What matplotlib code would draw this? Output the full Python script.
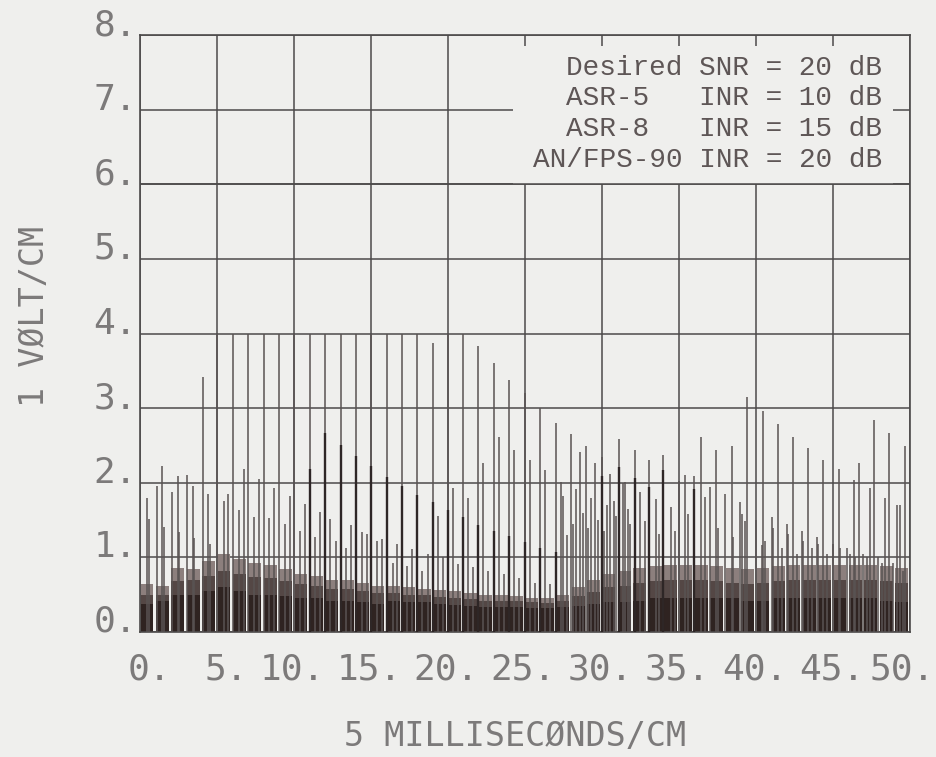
import matplotlib
matplotlib.use("Agg")
import matplotlib.pyplot as plt
from matplotlib import font_manager
from matplotlib.patches import Rectangle
from matplotlib.transforms import ScaledTranslation

# ---------------- data ----------------
x_ticks = [0, 5, 10, 15, 20, 25, 30, 35, 40, 45, 50]
y_ticks = [0, 1, 2, 3, 4, 5, 6, 7, 8]
x_tick_labels = ["0.", "5.", "10.", "15.", "20.", "25.", "30.", "35.", "40.", "45.", "50."]
y_tick_labels = ["0.", "1.", "2.", "3.", "4.", "5.", "6.", "7.", "8."]

# noise floor, one value per 1-ms cell (volts)
floor_cell_ms = list(range(50))
floor_top = [0.64, 0.62, 0.86, 0.85, 0.95, 1.05, 0.98, 0.92, 0.90, 0.84,
             0.78, 0.75, 0.70, 0.70, 0.66, 0.62, 0.62, 0.60, 0.58, 0.56,
             0.55, 0.52, 0.50, 0.50, 0.48, 0.46, 0.45, 0.50, 0.60, 0.70,
             0.78, 0.82, 0.86, 0.88, 0.90, 0.90, 0.90, 0.88, 0.86, 0.84,
             0.86, 0.88, 0.90, 0.90, 0.90, 0.90, 0.90, 0.90, 0.88, 0.86]
floor_mid = [0.50, 0.50, 0.68, 0.70, 0.75, 0.82, 0.78, 0.74, 0.72, 0.68,
             0.64, 0.62, 0.58, 0.58, 0.55, 0.52, 0.52, 0.50, 0.49, 0.47,
             0.46, 0.44, 0.42, 0.42, 0.41, 0.40, 0.39, 0.42, 0.48, 0.54,
             0.60, 0.62, 0.66, 0.68, 0.70, 0.70, 0.70, 0.68, 0.66, 0.64,
             0.66, 0.68, 0.70, 0.70, 0.70, 0.70, 0.70, 0.70, 0.68, 0.66]
floor_core = [0.38, 0.42, 0.50, 0.50, 0.55, 0.60, 0.55, 0.50, 0.50, 0.48,
              0.45, 0.45, 0.42, 0.42, 0.40, 0.38, 0.42, 0.40, 0.40, 0.38,
              0.36, 0.35, 0.34, 0.33, 0.33, 0.32, 0.32, 0.33, 0.35, 0.38,
              0.40, 0.40, 0.42, 0.45, 0.45, 0.45, 0.45, 0.45, 0.45, 0.42,
              0.42, 0.45, 0.45, 0.45, 0.45, 0.45, 0.45, 0.45, 0.42, 0.40]

# individual pulses (time in ms, peak in volts)
pulse_ms = [0.43, 0.58, 1.08, 1.45, 1.58, 2.06, 2.45, 2.55, 3.03, 3.42,
            3.53, 4.07, 4.44, 4.55, 5.03, 5.45, 5.74, 6.04, 6.43, 6.77,
            7.03, 7.42, 7.75, 8.04, 8.40, 8.72, 9.03, 9.42, 9.74, 10.03,
            10.39, 10.71, 11.03, 11.36, 11.69, 12.02, 12.34, 12.72, 13.03, 13.38,
            13.70, 14.03, 14.39, 14.72, 15.03, 15.37, 15.69, 16.02, 16.41, 16.67,
            17.00, 17.36, 17.68, 18.01, 18.34, 18.68, 19.00, 19.33, 19.65, 20.00,
            20.35, 20.67, 21.00, 21.32, 21.65, 21.98, 22.29, 22.62, 22.99, 23.29,
            23.64, 23.98, 24.31, 24.63, 25.00, 25.32, 25.65, 25.97, 26.30, 26.63,
            26.99, 27.32, 27.49, 27.99, 28.31, 28.57, 28.96, 29.27, 29.55, 30.00,
            30.30, 30.52, 31.10, 31.39, 31.50, 32.14, 32.50, 33.07, 33.51, 33.94,
            34.45, 35.00, 35.39, 35.97, 36.41, 37.01, 37.40, 37.99, 38.42, 38.96,
            39.07, 39.44, 40.00, 40.37, 40.43, 41.02, 41.41, 41.99, 42.38, 42.97,
            43.40, 43.94, 44.37, 44.98, 45.39, 45.93, 46.38, 46.66, 46.97, 47.40,
            47.66, 47.94, 48.38, 48.66, 48.92, 49.13, 49.35, 49.52, 49.68,
            27.72, 28.10, 28.75, 29.10, 29.75, 30.15, 30.75, 30.90, 31.70, 31.85,
            32.79, 33.72, 34.74, 35.60, 36.69, 37.55, 38.50, 39.29, 40.58, 41.13,
            41.67, 42.10, 42.64, 43.07, 43.61, 44.05, 44.59, 45.45, 46.10, 46.43,
            47.19, 48.16]
pulse_volts = [1.80, 1.52, 1.96, 2.22, 1.41, 1.87, 2.09, 1.34, 2.10, 1.96,
               1.26, 3.42, 1.85, 1.18, 4.00, 1.75, 1.85, 4.00, 1.64, 2.19,
               4.00, 1.54, 2.05, 4.00, 1.53, 1.93, 4.00, 1.45, 1.82, 4.00,
               1.35, 1.72, 4.00, 1.27, 1.61, 4.00, 1.52, 1.22, 4.00, 1.13,
               1.43, 4.00, 1.34, 1.31, 4.00, 1.22, 1.25, 4.00, 0.93, 1.18,
               4.00, 0.89, 1.11, 4.00, 0.82, 1.04, 3.87, 1.56, 1.00, 4.00,
               1.93, 0.91, 4.00, 1.80, 0.87, 3.83, 2.26, 0.82, 3.61, 2.61,
               0.78, 3.38, 2.44, 0.73, 3.20, 2.30, 0.66, 3.00, 2.17, 0.64,
               2.80, 2.01, 1.82, 2.65, 1.92, 2.41, 2.49, 1.80, 2.26, 2.35,
               1.70, 2.12, 2.59, 1.99, 2.01, 2.44, 1.88, 2.30, 1.78, 2.37,
               1.67, 2.03, 2.11, 2.09, 2.61, 1.94, 2.44, 1.85, 2.49, 1.74,
               1.58, 3.15, 1.50, 1.16, 2.96, 1.54, 2.79, 1.45, 2.61, 1.36,
               2.46, 1.27, 2.31, 1.18, 2.18, 1.13, 2.04, 2.26, 1.04, 1.93,
               2.84, 1.00, 1.80, 2.67, 0.93, 1.70, 1.70, 0.82, 2.49,
               1.30, 1.45, 1.60, 1.40, 1.50, 1.35, 1.75, 1.55, 1.65, 1.45,
               1.49, 1.31, 1.36, 1.58, 1.81, 1.40, 1.27, 1.49, 1.22, 1.40,
               1.13, 1.31, 1.04, 1.22, 1.13, 1.18, 1.04, 1.13, 1.04, 1.00,
               1.00, 0.93]

# coinciding (overlapping, darker) pulses
overlap_ms = [11.03, 12.02, 13.03, 14.03, 15.03, 16.02, 17.00, 18.01, 19.00, 20.00,
              21.00, 21.98, 22.99, 23.98, 25.00, 25.97, 26.99, 30.00, 31.10, 32.14,
              33.07, 33.94, 35.97]
overlap_volts = [2.19, 2.66, 2.50, 2.36, 2.22, 2.08, 1.96, 1.84, 1.74, 1.64,
                 1.54, 1.43, 1.36, 1.28, 1.20, 1.13, 1.07, 2.09, 2.21, 2.07,
                 1.94, 2.17, 1.91]

legend_lines = ["Desired SNR = 20 dB",
                "ASR-5   INR = 10 dB",
                "ASR-8   INR = 15 dB",
                "AN/FPS-90 INR = 20 dB"]
x_label = "5 MILLISEC\u00d8NDS/CM"
y_label = "1 V\u00d8LT/CM"

# ---------------- style ----------------
avail = {f.name for f in font_manager.fontManager.ttflist}
plot_font = "DejaVu Sans Mono"
legend_font = "Liberation Mono" if "Liberation Mono" in avail else "DejaVu Sans Mono"

bg = "#efefed"
grid_c = "#4c4a4a"
text_c = "#7c7a7a"
W, H, DPI = 937, 757, 100

fig = plt.figure(figsize=(W / DPI, H / DPI), dpi=DPI, facecolor=bg)
ax = fig.add_axes([140 / W, (H - 632) / H, 770 / W, 597 / H])
ax.set_facecolor(bg)
ax.set_xlim(0, 50)
ax.set_ylim(0, 8)

# grid
ax.set_axisbelow(True)
ax.grid(True, color=grid_c, linewidth=1.1)
for s in ax.spines.values():
    s.set_color(grid_c)
    s.set_linewidth(1.2)

# legend blanking box (covers grid)
ax.add_patch(Rectangle((24.2, 6.0), 48.9 - 24.2, 7.85 - 6.0,
                       facecolor=bg, edgecolor="none", zorder=1))
ax.axhline(6, color=grid_c, linewidth=1.1, zorder=1.5)

# noise floor
bar_x = [c + 0.46 for c in floor_cell_ms]
ax.bar(bar_x, floor_top, width=0.83, color="#8c7f7d", edgecolor="none", zorder=2)
ax.bar(bar_x, floor_mid, width=0.83, color="#544745", edgecolor="none", zorder=2.05)
ax.bar(bar_x, floor_core, width=0.83, color="#2f2321", edgecolor="none", zorder=2.1)

# pulses
ax.vlines(pulse_ms, 0, pulse_volts, colors="#595353", linewidth=1.1, zorder=3)
ax.vlines(overlap_ms, 0, overlap_volts, colors="#2e2626", linewidth=1.7, zorder=3.1)

# ticks & labels
ax.set_xticks(x_ticks)
ax.set_yticks(y_ticks)
ax.set_xticklabels(x_tick_labels, fontfamily=plot_font, fontsize=26,
                   color=text_c, ha="right", va="baseline")
ax.set_yticklabels(y_tick_labels, fontfamily=plot_font, fontsize=26,
                   color=text_c, ha="right", va="baseline")
ax.tick_params(length=0, pad=0)
xlabs = ax.get_xticklabels()
for i, lab in enumerate(xlabs):
    dx = 25 if i == len(xlabs) - 1 else 31
    lab.set_transform(lab.get_transform() + ScaledTranslation(dx / DPI, -47 / DPI, fig.dpi_scale_trans))
for lab in ax.get_yticklabels():
    lab.set_transform(lab.get_transform() + ScaledTranslation(-3 / DPI, 0, fig.dpi_scale_trans))

fig.text(515 / W, 1 - 746 / H, x_label, fontfamily=plot_font, fontsize=24,
         color=text_c, ha="center", va="baseline")
fig.text(35 / W, 1 - 316 / H, y_label, fontfamily=plot_font, fontsize=24,
         color=text_c, ha="center", va="center", rotation=90)

# legend text
legend_y = [0.933, 0.882, 0.830, 0.779]
for line, yy in zip(legend_lines, legend_y):
    ax.text(0.9636, yy, line, transform=ax.transAxes, fontfamily=legend_font,
            fontsize=20, color="#5e5656", ha="right", va="baseline", zorder=5)

fig.savefig("out.png", dpi=DPI, facecolor=bg)
